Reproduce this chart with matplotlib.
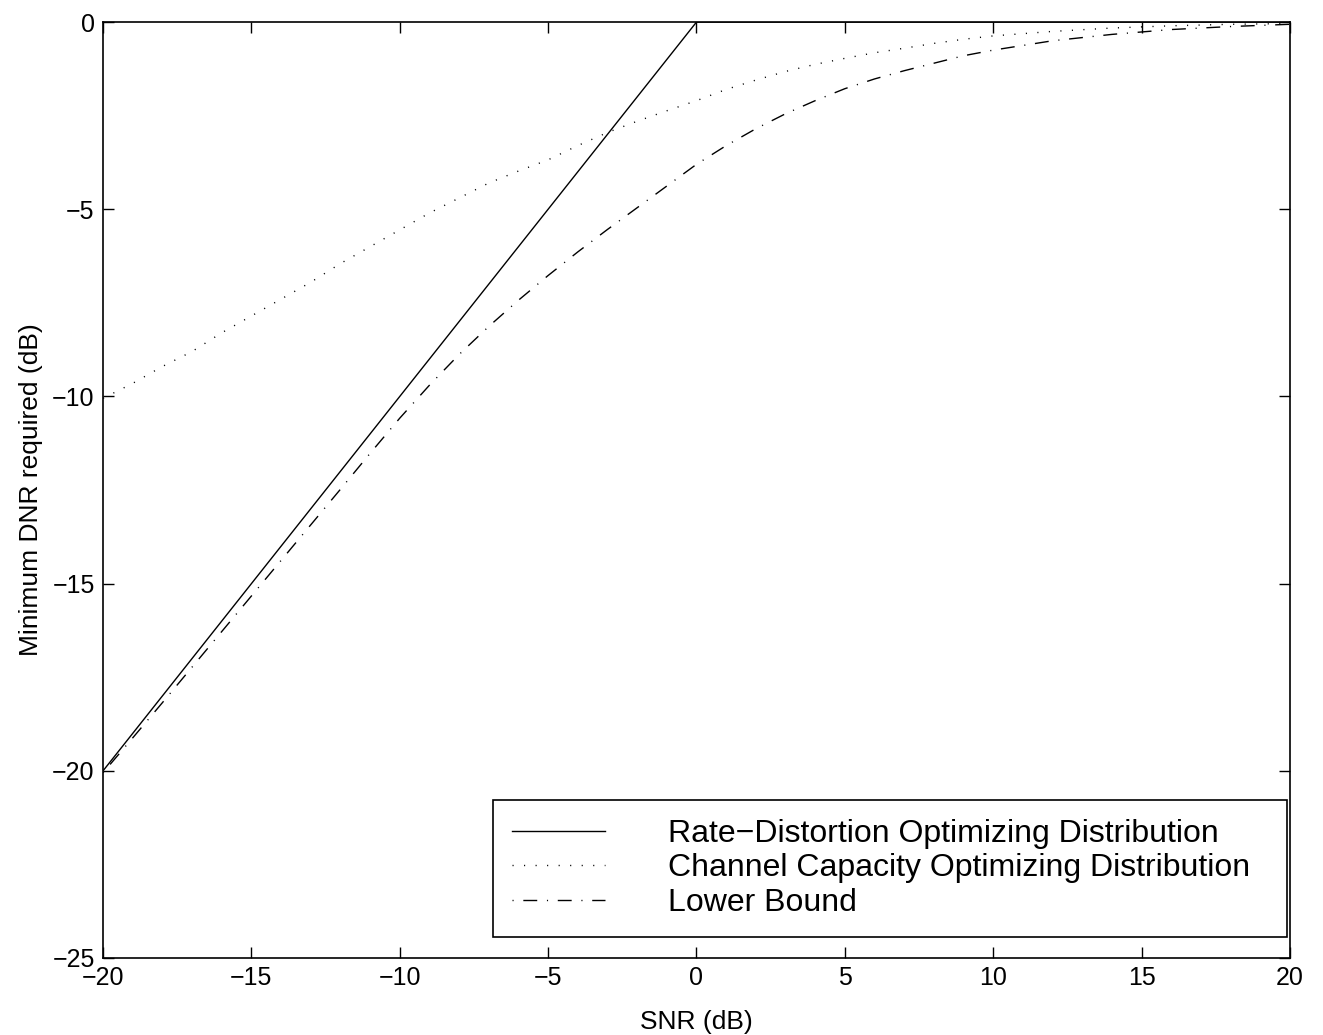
import numpy as np
import matplotlib
matplotlib.use("Agg")
import matplotlib.pyplot as plt

plt.rcParams['font.family'] = ['Liberation Sans', 'DejaVu Sans']

# SNR grid (dB)
snr_db = [-20, -19, -18, -17, -16, -15, -14, -13, -12, -11, -10, -9, -8, -7,
          -6, -5, -4, -3, -2, -1, 0, 1, 2, 3, 4, 5, 6, 7, 8, 9, 10, 12, 14,
          16, 18, 20]

# rate-distortion optimizing distribution: breakpoint at 0 dB
rd_snr = [-20, 0, 20]
rd_dnr = [-20, 0, 0]

# channel capacity optimizing distribution
cc_dnr = [-10.05, -9.65, -9.2, -8.8, -8.3, -7.85, -7.4, -6.95, -6.45, -6.0,
          -5.55, -5.1, -4.7, -4.3, -3.98, -3.68, -3.3, -2.95, -2.65, -2.37,
          -2.1, -1.8, -1.55, -1.32, -1.13, -0.97, -0.82, -0.7, -0.57, -0.46,
          -0.37, -0.25, -0.16, -0.1, -0.06, -0.04]

# lower bound
lb_dnr = [-20.05, -19.12, -18.18, -17.23, -16.28, -15.33, -14.38, -13.43,
          -12.48, -11.52, -10.58, -9.7, -8.88, -8.13, -7.43, -6.77, -6.14,
          -5.54, -4.96, -4.38, -3.8, -3.3, -2.85, -2.45, -2.1, -1.78, -1.52,
          -1.3, -1.1, -0.9, -0.75, -0.5, -0.33, -0.2, -0.12, -0.06]

fig = plt.figure(figsize=(13.23, 10.35), dpi=100)
ax = fig.add_axes([0.0779, 0.0744, 0.8971, 0.9043])

ax.plot(rd_snr, rd_dnr, color='k', lw=1.0, label='Rate\u2212Distortion Optimizing Distribution')
ax.plot(snr_db, cc_dnr, color='k', lw=1.0, linestyle=(0, (0.8, 7.5)),
        label='Channel Capacity Optimizing Distribution')
ax.plot(snr_db, lb_dnr, color='k', lw=1.0, linestyle=(0, (0.8, 7.0, 10, 7.0)),
        label='Lower Bound')

ax.set_xlim(-20, 20)
ax.set_ylim(-25, 0)
ax.set_xticks(np.arange(-20, 21, 5))
ax.set_yticks(np.arange(-25, 1, 5))
ax.tick_params(direction='in', top=True, right=True, length=8, width=1,
               labelsize=18, pad=6)
for s in ax.spines.values():
    s.set_linewidth(1.2)

ax.set_xlabel('SNR (dB)', fontsize=19, labelpad=14)
ax.set_ylabel('Minimum DNR required (dB)', fontsize=19, labelpad=7)

# legend box stretched to a fixed width, text left aligned
leg = ax.legend(loc='lower left', bbox_to_anchor=(0.3286, 0.0224, 0.6689, 0.143),
                mode='expand', fontsize=23,
                frameon=True, fancybox=False, edgecolor='k', framealpha=1,
                handlelength=2.9, handletextpad=1.97, borderpad=0.6,
                labelspacing=0.14, borderaxespad=0)
leg.get_frame().set_linewidth(1.2)

fig.savefig('out.png', dpi=100)
